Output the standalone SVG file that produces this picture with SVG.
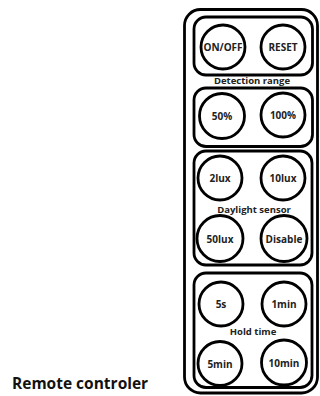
<svg xmlns="http://www.w3.org/2000/svg" width="320" height="396" viewBox="0 0 320 396">
<style>
.frame{fill:none;stroke:#000;stroke-width:2.8}
.btn circle{fill:#fff;stroke:#000;stroke-width:2.8}
.btn text{font-family:"Open Sans","Liberation Sans",sans-serif;font-weight:bold;font-size:10px;fill:#222;text-anchor:middle;dominant-baseline:central}
.lbl{font-family:"Open Sans","Liberation Sans",sans-serif;font-weight:bold;font-size:9.5px;fill:#222;text-anchor:middle}
.title{font-family:"Open Sans","Liberation Sans",sans-serif;font-weight:bold;font-size:15.5px;fill:#111}
</style>
<rect width="320" height="396" fill="#fff"/>
<g id="remote">
<rect class="frame" x="184.5" y="9.5" width="133" height="383.5" rx="16" stroke-width="3"/>
</g>
<g id="group-power">
<rect class="frame" x="194" y="17" width="118.5" height="58" rx="12"/>
</g>
<g id="btn-onoff" class="btn"><circle cx="223" cy="47" r="22"/><text x="223" y="47">ON/OFF</text></g>
<g id="btn-reset" class="btn"><circle cx="283" cy="47" r="22"/><text x="283" y="47">RESET</text></g>
<g id="label-detection"><text class="lbl" x="252" y="84">Detection range</text></g>
<g id="group-detection">
<rect class="frame" x="194" y="88" width="118.5" height="58.5" rx="12"/>
</g>
<g id="btn-50" class="btn"><circle cx="222" cy="116" r="22.5"/><text x="222" y="116">50%</text></g>
<g id="btn-100" class="btn"><circle cx="283" cy="115" r="22"/><text x="283" y="115">100%</text></g>
<g id="group-daylight">
<rect class="frame" x="194" y="151" width="118" height="114" rx="12"/>
</g>
<g id="btn-2lux" class="btn"><circle cx="220" cy="178" r="22"/><text x="220" y="178">2lux</text></g>
<g id="btn-10lux" class="btn"><circle cx="283" cy="178" r="22"/><text x="283" y="178">10lux</text></g>
<g id="label-daylight"><text class="lbl" x="254" y="213">Daylight sensor</text></g>
<g id="btn-50lux" class="btn"><circle cx="220" cy="238.5" r="23"/><text x="220" y="238.5">50lux</text></g>
<g id="btn-disable" class="btn"><circle cx="284" cy="238.5" r="23"/><text x="284" y="238.5">Disable</text></g>
<g id="group-hold">
<rect class="frame" x="194" y="273" width="118" height="114.5" rx="12"/>
</g>
<g id="btn-5s" class="btn"><circle cx="221" cy="304" r="22"/><text x="221" y="304">5s</text></g>
<g id="btn-1min" class="btn"><circle cx="284" cy="304" r="22"/><text x="284" y="304">1min</text></g>
<g id="label-hold"><text class="lbl" x="253" y="335">Hold time</text></g>
<g id="btn-5min" class="btn"><circle cx="220" cy="363.5" r="22"/><text x="220" y="363.5">5min</text></g>
<g id="btn-10min" class="btn"><circle cx="284" cy="362.5" r="22.5"/><text x="284" y="362.5">10min</text></g>
<g id="connectors"></g>
<g id="title"><text class="title" x="12" y="389">Remote controler</text></g>
</svg>
